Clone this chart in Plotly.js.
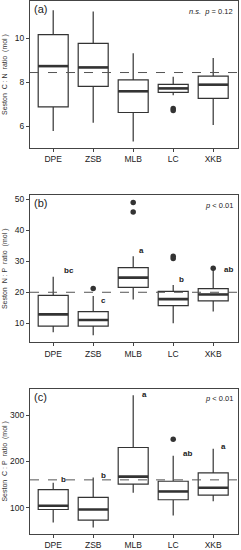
<!DOCTYPE html>
<html><head><meta charset="utf-8">
<script src="https://cdn.plot.ly/plotly-3.0.1.min.js"></script>
<style>html,body{margin:0;padding:0;background:#fff}#c{width:241px;height:550px}</style>
</head><body><div id="c"></div>
<script>
const cats = ['DPE','ZSB','MLB','LC','XKB'];
// Panel (a) C:N
const cnLow  = [5.79, 6.16, 5.31, 7.41, 6.06];
const cnQ1   = [6.88, 7.81, 6.63, 7.54, 7.27];
const cnMed  = [8.73, 8.67, 7.59, 7.72, 7.89];
const cnQ3   = [10.16, 9.76, 8.11, 7.90, 8.28];
const cnHigh = [11.26, 11.2, 9.31, 8.25, 9.10];
const cnOutX = [3, 3];
const cnOutY = [6.81, 6.72];
const cnRef = 8.44;
// Panel (b) N:P
const npLow  = [7.1, 6.2, 17.7, 10.0, 13.8];
const npQ1   = [9.1, 9.1, 21.6, 15.7, 17.2];
const npMed  = [12.9, 11.1, 24.7, 17.8, 19.3];
const npQ3   = [19.0, 13.8, 27.9, 20.3, 21.2];
const npHigh = [25.0, 18.8, 31.6, 22.3, 27.5];
const npOutX = [1, 2, 2, 3, 3, 4];
const npOutY = [21.2, 48.9, 45.8, 31.6, 30.9, 27.7];
const npRef = 20;
const npLetters = ['bc','c','a','b','ab'];
const npLetY = [26.9, 17.2, 33.5, 24.0, 27.4];
const npLetDx = [0.21, 0.14, 0.09, 0.09, 0.22];
// Panel (c) C:P
const cpLow  = [68, 57, 132, 83, 114];
const cpQ1   = [96, 73, 151, 117, 127];
const cpMed  = [104, 96, 167, 135, 143];
const cpQ3   = [139, 122, 230, 157, 175];
const cpHigh = [154, 165, 343, 212, 227];
const cpOutX = [3];
const cpOutY = [248];
const cpRef = 160;
const cpLetters = ['b','b','a','ab','a'];
const cpLetY = [160, 170, 345, 216, 233];
const cpLetDx = [0.15, 0.15, 0.17, 0.2, 0.14];

const idx = cats.map((c,i)=>i);
const BW = 0.75;
const dark = '#333333';
const traces = [];
const panels = [
  {low:cnLow,q1:cnQ1,med:cnMed,q3:cnQ3,high:cnHigh,ox:cnOutX,oy:cnOutY,xa:'x',ya:'y'},
  {low:npLow,q1:npQ1,med:npMed,q3:npQ3,high:npHigh,ox:npOutX,oy:npOutY,xa:'x2',ya:'y2'},
  {low:cpLow,q1:cpQ1,med:cpMed,q3:cpQ3,high:cpHigh,ox:cpOutX,oy:cpOutY,xa:'x3',ya:'y3'}
];
panels.forEach(p=>{
  traces.push({type:'box', x:idx, q1:p.q1, median:p.med, q3:p.q3, lowerfence:p.low, upperfence:p.high,
    width:BW, whiskerwidth:0, fillcolor:'#ffffff', line:{color:dark,width:1.2},
    xaxis:p.xa, yaxis:p.ya, hoverinfo:'skip', showlegend:false});
  // thicker medians
  const mx=[], my=[];
  idx.forEach(i=>{mx.push(i-BW/2,i+BW/2,null); my.push(p.med[i],p.med[i],null);});
  traces.push({type:'scatter', mode:'lines', x:mx, y:my, line:{color:dark,width:2.6},
    xaxis:p.xa, yaxis:p.ya, hoverinfo:'skip', showlegend:false});
  traces.push({type:'scatter', mode:'markers', x:p.ox, y:p.oy, marker:{color:dark,size:5.5},
    xaxis:p.xa, yaxis:p.ya, hoverinfo:'skip', showlegend:false});
});

const font = {family:'Liberation Sans, Arial, sans-serif', size:8, color:'#333'};
const nb = '\u00A0';
function xax(anchor){
  return {range:[-0.58,4.62], tickvals:idx, ticktext:cats, anchor:anchor,
    showline:true, mirror:true, linecolor:'#444', linewidth:1.1, ticks:'outside', ticklen:3,
    tickcolor:'#444', tickfont:{family:font.family,size:8.5,color:'#222'}, showgrid:false, zeroline:false};
}
function yax(anchor, domain, range, tv, title, standoff){
  return {domain:domain, range:range, tickvals:tv, anchor:anchor,
    showline:true, mirror:true, linecolor:'#444', linewidth:1.1, ticks:'outside', ticklen:3,
    tickcolor:'#444', tickfont:{family:font.family,size:8.5,color:'#222'}, showgrid:false, zeroline:false,
    title:{text:title, font:{family:font.family,size:7,color:'#333'}, standoff:standoff}};
}
const layout = {
  width:241, height:550, margin:{l:30,r:3,t:1,b:0},
  paper_bgcolor:'#fff', plot_bgcolor:'#fff', showlegend:false, font:font,
  xaxis: xax('y'), xaxis2: xax('y2'), xaxis3: xax('y3'),
  yaxis: yax('x', [0.7322,1.0], [5.02,11.68], [6,8,10], 'Seston'+nb+nb+'C'+nb+':'+nb+'N'+nb+nb+'ratio'+nb+nb+'(mol'+nb+')', 6),
  yaxis2: yax('x2', [0.3783,0.6461], [3.9,51.2], [10,20,30,40,50], 'Seston'+nb+nb+'N'+nb+':'+nb+'P'+nb+nb+'ratio'+nb+nb+'(mol'+nb+')', 6),
  yaxis3: yax('x3', [0.0291,0.2938], [43,357], [100,200,300], 'Seston'+nb+nb+'C'+nb+':'+nb+'P'+nb+nb+'ratio'+nb+nb+'(mol'+nb+')', 1),
  shapes: [
    {type:'line', xref:'x domain', yref:'y', x0:0, x1:1, y0:cnRef, y1:cnRef, line:{color:'#555',width:1,dash:'dash'}},
    {type:'line', xref:'x2 domain', yref:'y2', x0:0, x1:1, y0:npRef, y1:npRef, line:{color:'#555',width:1,dash:'dash'}},
    {type:'line', xref:'x3 domain', yref:'y3', x0:0, x1:1, y0:cpRef, y1:cpRef, line:{color:'#555',width:1,dash:'dash'}}
  ],
  annotations: []
};
const pl = [['(a)','x','y','<i>n.s.</i>'+nb+nb+'<i>p</i> = 0.12'],['(b)','x2','y2','<i>p</i> < 0.01'],['(c)','x3','y3','<i>p</i> < 0.01']];
pl.forEach(a=>{
  layout.annotations.push({text:a[0], xref:a[1]+' domain', yref:a[2]+' domain', x:0.01, y:1.0, xanchor:'left', yanchor:'top',
    showarrow:false, font:{family:font.family,size:11,color:'#222'}});
  layout.annotations.push({text:a[3], xref:a[1]+' domain', yref:a[2]+' domain', x:0.985, y:0.975, xanchor:'right', yanchor:'top',
    showarrow:false, font:{family:font.family,size:7.5,color:'#222'}});
});
idx.forEach(i=>{
  layout.annotations.push({text:'<b>'+npLetters[i]+'</b>', xref:'x2', yref:'y2', x:i+npLetDx[i], y:npLetY[i], xanchor:'left', yanchor:'middle',
    showarrow:false, font:{family:font.family,size:8,color:'#222'}});
  layout.annotations.push({text:'<b>'+cpLetters[i]+'</b>', xref:'x3', yref:'y3', x:i+cpLetDx[i], y:cpLetY[i], xanchor:'left', yanchor:'middle',
    showarrow:false, font:{family:font.family,size:8,color:'#222'}});
});
Plotly.newPlot('c', traces, layout, {staticPlot:true, displayModeBar:false});
</script></body></html>
